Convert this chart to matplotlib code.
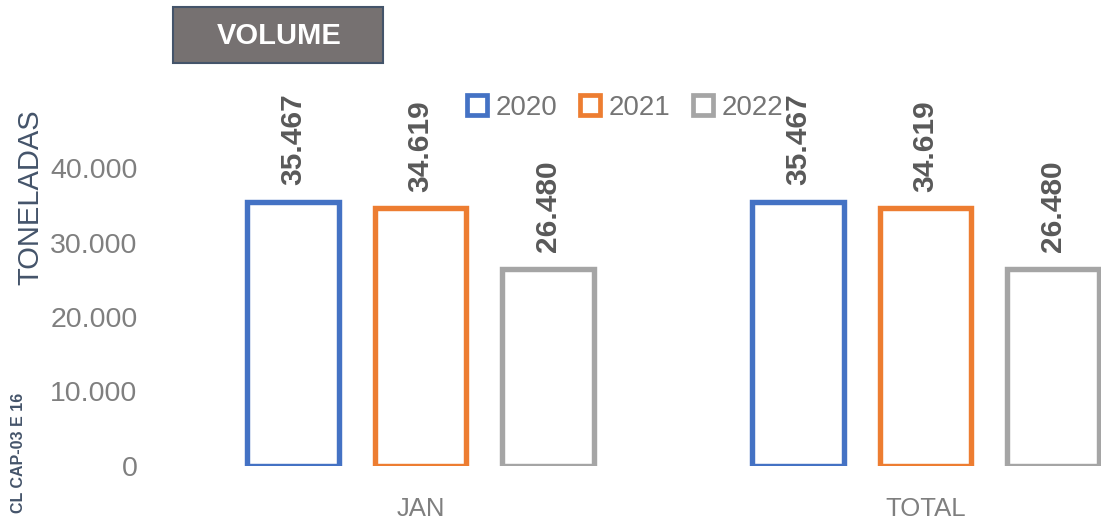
import numpy as np
import matplotlib.pyplot as plt
from matplotlib.lines import Line2D
from matplotlib.ticker import FuncFormatter

plt.rcParams['font.family'] = ['Liberation Sans', 'DejaVu Sans']

categories = ["JAN", "TOTAL"]
years = ["2020", "2021", "2022"]
values = {
    "2020": [35467, 35467],
    "2021": [34619, 34619],
    "2022": [26480, 26480],
}
colors = ["#4472C4", "#ED7D31", "#A5A5A5"]

fig = plt.figure(figsize=(11.01, 5.20), dpi=100)
# axes placed so the right end of the plot area runs off the picture, like the crop
ax = fig.add_axes([168 / 1101, 54.5 / 520, 1010 / 1101, 371.25 / 520])

x = np.arange(len(categories))
offset = 0.2525
width = 0.182

for i, yr in enumerate(years):
    pos = x + (i - 1) * offset
    rects = ax.bar(pos, values[yr], width, facecolor="white",
                   edgecolor=colors[i], linewidth=3.9)
    for r, v in zip(rects, values[yr]):
        ax.annotate(f"{v:,}".replace(",", "."),
                    (r.get_x() + r.get_width() / 2, r.get_height()),
                    xytext=(0, 12), textcoords="offset points",
                    rotation=90, ha="center", va="bottom",
                    fontsize=21.5, fontweight="bold", color="#595959")

ax.set_xlim(-0.5, 1.5)
ax.set_ylim(0, 50000)
ax.set_yticks([0, 10000, 20000, 30000, 40000])
ax.yaxis.set_major_formatter(FuncFormatter(lambda v, p: f"{int(v):,}".replace(",", ".")))
ax.tick_params(axis="y", length=0, labelsize=20.5, labelcolor="#7F7F7F", pad=22)
ax.set_xticks(x, categories)
ax.tick_params(axis="x", length=0, labelsize=18.5, labelcolor="#7F7F7F", pad=23)
for s in ax.spines.values():
    s.set_visible(False)

# y label
fig.text(30 / 1101, 1 - 197 / 520, "TONELADAS", rotation=90, ha="center", va="center",
         fontsize=21, color="#44546A")
fig.text(19 / 1101, 1 - 453 / 520, "CL CAP-03 E 16", rotation=90, ha="center", va="center",
         fontsize=11.5, color="#44546A", fontweight="bold")

# title box
fig.text(279 / 1101, 1 - 36 / 520, "VOLUME", ha="center", va="center",
         fontsize=21, fontweight="bold", color="white")
box = plt.Rectangle((173 / 1101, 1 - 63 / 520), 210 / 1101, 56 / 520,
                    transform=fig.transFigure, facecolor="#767171",
                    edgecolor="#44546A", linewidth=1.5, zorder=-1)
fig.patches.append(box)

handles = [Line2D([], [], marker="s", linestyle="none", markersize=14,
                  markerfacecolor="white", markeredgecolor=c, markeredgewidth=3.4)
           for c in colors]
leg = fig.legend(handles, years, loc="center", bbox_to_anchor=(625 / 1101, 1 - 108 / 520),
                 ncol=3, frameon=False, fontsize=20, handlelength=0.75,
                 handletextpad=0.3, columnspacing=0.8, labelcolor="#757575")

fig.savefig("out.png", dpi=100)
